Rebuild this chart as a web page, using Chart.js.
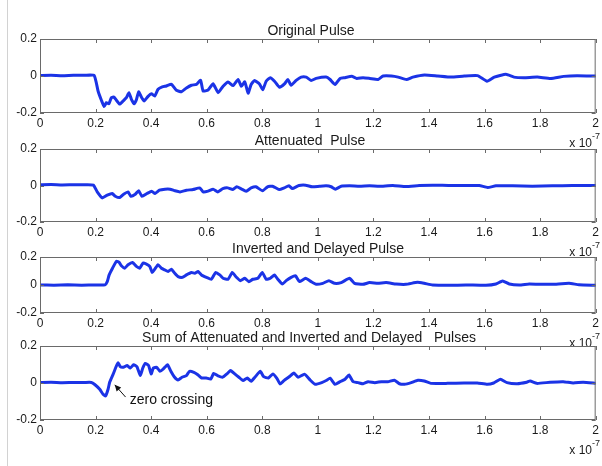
<!DOCTYPE html>
<html>
<head>
<meta charset="utf-8">
<script src="https://cdn.jsdelivr.net/npm/chart.js@4"></script>
<style>
  body { margin: 0; width: 602px; height: 466px; background: #fff; overflow: hidden; position: relative; }
  .edge { position: absolute; left: 7px; top: 0; width: 1px; height: 466px; background: #d2d2d2; }
  canvas { position: absolute; left: 0; }
</style>
</head>
<body>
<div class="edge"></div>
<script>
// time axis in units of 1e-7 s
const xTicks = [0, 0.2, 0.4, 0.6, 0.8, 1, 1.2, 1.4, 1.6, 1.8, 2];
const yTicks = [-0.2, 0, 0.2];

const origT = [0, 0.04, 0.08, 0.12, 0.16, 0.195, 0.209, 0.221, 0.231, 0.239, 0.248, 0.257, 0.266, 0.275, 0.287, 0.299, 0.311, 0.32, 0.329, 0.339, 0.347, 0.355, 0.365, 0.375, 0.389, 0.401, 0.413, 0.425, 0.44, 0.455, 0.473, 0.491, 0.509, 0.527, 0.545, 0.563, 0.578, 0.587, 0.605, 0.623, 0.641, 0.659, 0.677, 0.695, 0.713, 0.725, 0.737, 0.749, 0.76, 0.772, 0.79, 0.802, 0.814, 0.829, 0.844, 0.862, 0.88, 0.892, 0.904, 0.922, 0.94, 0.958, 0.976, 0.994, 1.03, 1.044, 1.062, 1.08, 1.098, 1.122, 1.14, 1.163, 1.187, 1.217, 1.235, 1.265, 1.289, 1.319, 1.342, 1.384, 1.432, 1.48, 1.527, 1.575, 1.609, 1.635, 1.677, 1.706, 1.742, 1.79, 1.838, 1.885, 1.933, 2];
const origV = [0.003, 0.004, 0.002, 0.004, 0.004, 0.003, -0.081, -0.131, -0.165, -0.144, -0.15, -0.117, -0.114, -0.131, -0.152, -0.135, -0.117, -0.09, -0.126, -0.15, -0.128, -0.085, -0.114, -0.135, -0.11, -0.096, -0.108, -0.072, -0.059, -0.054, -0.045, -0.077, -0.085, -0.065, -0.05, -0.045, -0.023, -0.081, -0.076, -0.042, -0.09, -0.055, -0.032, -0.052, -0.019, -0.056, -0.031, -0.093, -0.046, -0.024, -0.043, -0.074, -0.028, -0.009, -0.028, -0.061, -0.043, -0.019, -0.05, -0.024, -0.006, -0.006, -0.024, -0.013, -0.006, -0.019, -0.046, -0.013, -0.009, -0.002, -0.013, -0.009, -0.013, -0.019, 0, 0, -0.006, -0.019, -0.006, 0.006, 0, -0.006, 0, 0.002, -0.028, -0.006, 0.009, -0.006, -0.009, -0.006, -0.013, -0.002, 0.002, 0];

const attT = [0, 0.04, 0.08, 0.12, 0.16, 0.192, 0.206, 0.224, 0.242, 0.26, 0.271, 0.287, 0.301, 0.317, 0.327, 0.343, 0.355, 0.367, 0.385, 0.402, 0.414, 0.43, 0.45, 0.468, 0.486, 0.504, 0.527, 0.551, 0.575, 0.587, 0.605, 0.623, 0.64, 0.658, 0.676, 0.694, 0.708, 0.724, 0.742, 0.76, 0.777, 0.801, 0.819, 0.837, 0.861, 0.879, 0.896, 0.908, 0.932, 0.956, 0.98, 1.006, 1.03, 1.048, 1.063, 1.084, 1.114, 1.15, 1.186, 1.222, 1.27, 1.317, 1.365, 1.413, 1.473, 1.533, 1.581, 1.611, 1.641, 1.701, 1.772, 1.844, 1.916, 2];
const attV = [0.004, 0.005, 0.003, 0.004, 0.004, 0.002, -0.035, -0.068, -0.053, -0.044, -0.059, -0.066, -0.048, -0.035, -0.059, -0.048, -0.029, -0.059, -0.044, -0.031, -0.044, -0.026, -0.02, -0.02, -0.029, -0.035, -0.026, -0.022, -0.013, -0.035, -0.031, -0.02, -0.035, -0.017, -0.013, -0.022, -0.007, -0.018, -0.031, -0.013, -0.007, -0.029, -0.007, -0.004, -0.022, -0.013, -0.002, -0.017, 0, 0.002, -0.007, -0.004, -0.002, -0.007, -0.02, -0.004, -0.002, -0.004, -0.002, -0.004, 0, -0.006, 0, 0.002, 0, 0, 0, -0.011, -0.002, -0.002, -0.004, -0.002, 0, 0];

const invT = [0, 0.05, 0.1, 0.15, 0.2, 0.234, 0.242, 0.249, 0.261, 0.275, 0.285, 0.293, 0.305, 0.317, 0.333, 0.347, 0.359, 0.371, 0.383, 0.395, 0.404, 0.413, 0.425, 0.437, 0.449, 0.461, 0.473, 0.485, 0.497, 0.513, 0.527, 0.545, 0.557, 0.569, 0.581, 0.599, 0.617, 0.632, 0.647, 0.659, 0.677, 0.692, 0.707, 0.721, 0.737, 0.752, 0.766, 0.784, 0.8, 0.814, 0.829, 0.844, 0.856, 0.872, 0.886, 0.904, 0.92, 0.934, 0.956, 0.976, 0.994, 1.018, 1.04, 1.06, 1.084, 1.114, 1.132, 1.162, 1.186, 1.216, 1.246, 1.282, 1.317, 1.359, 1.383, 1.413, 1.473, 1.533, 1.605, 1.641, 1.665, 1.689, 1.725, 1.761, 1.796, 1.844, 1.904, 1.94, 2];
const invV = [0, -0.001, 0.001, -0.001, 0, 0.001, 0.024, 0.072, 0.12, 0.169, 0.161, 0.137, 0.12, 0.145, 0.161, 0.133, 0.12, 0.157, 0.149, 0.133, 0.089, 0.113, 0.145, 0.12, 0.108, 0.096, 0.113, 0.084, 0.06, 0.055, 0.072, 0.089, 0.084, 0.096, 0.072, 0.055, 0.041, 0.089, 0.072, 0.048, 0.041, 0.089, 0.055, 0.031, 0.048, 0.024, 0.041, 0.048, 0.089, 0.041, 0.048, 0.072, 0.041, 0.007, 0.031, 0.055, 0.065, 0.024, 0.048, 0.024, 0.005, 0.012, 0.031, 0.012, 0.017, 0.048, 0.012, 0.005, 0.017, 0.012, 0.017, 0.007, 0.005, 0.019, 0.012, 0, -0.002, 0, -0.002, 0.007, 0.029, 0.007, 0, 0.007, 0.005, 0.005, 0.012, 0.002, -0.002];

const sumT = [0, 0.04, 0.08, 0.12, 0.16, 0.185, 0.197, 0.215, 0.227, 0.236, 0.245, 0.251, 0.263, 0.275, 0.281, 0.288, 0.298, 0.314, 0.325, 0.337, 0.349, 0.361, 0.37, 0.379, 0.391, 0.4, 0.408, 0.42, 0.432, 0.444, 0.459, 0.471, 0.483, 0.497, 0.511, 0.527, 0.538, 0.554, 0.568, 0.582, 0.598, 0.615, 0.625, 0.639, 0.657, 0.675, 0.686, 0.701, 0.716, 0.731, 0.746, 0.76, 0.775, 0.793, 0.805, 0.822, 0.838, 0.852, 0.864, 0.878, 0.897, 0.914, 0.929, 0.952, 0.973, 0.99, 1.014, 1.032, 1.044, 1.062, 1.08, 1.098, 1.112, 1.127, 1.145, 1.163, 1.181, 1.205, 1.229, 1.252, 1.276, 1.294, 1.312, 1.336, 1.36, 1.383, 1.407, 1.467, 1.526, 1.574, 1.61, 1.633, 1.657, 1.681, 1.717, 1.752, 1.764, 1.788, 1.836, 1.883, 1.919, 1.955, 2];
const sumV = [0.003, 0.004, 0.002, 0.003, 0.003, 0.003, -0.008, -0.034, -0.061, -0.07, -0.034, 0.005, 0.047, 0.092, 0.11, 0.09, 0.085, 0.094, 0.081, 0.099, 0.088, 0.04, 0.081, 0.106, 0.094, 0.049, 0.081, 0.085, 0.063, 0.076, 0.099, 0.063, 0.034, 0.016, 0.031, 0.04, 0.063, 0.058, 0.045, 0.027, 0.027, 0.022, 0.052, 0.04, 0.031, 0.052, 0.067, 0.049, 0.031, 0.013, 0.027, 0.009, 0.034, 0.063, 0.034, 0.027, 0.049, 0.027, -0.005, 0.013, 0.034, 0.054, 0.031, 0.048, 0.015, -0.007, 0.002, 0.015, 0.026, -0.007, 0.007, 0.02, 0.043, 0.007, 0.002, -0.004, 0.007, 0.002, 0.007, 0.007, 0.015, -0.004, -0.007, 0.002, 0.015, 0.011, -0.002, -0.002, 0, 0, -0.007, 0, 0.02, 0.002, -0.004, 0.004, 0.011, -0.002, 0.004, 0.007, 0, 0.004, -0.001];

// arrow tip, arrow tail and label anchor in data units (panel 4)
const zeroCrossing = { text: 'zero crossing', tip: [0.269, -0.01], tail: [0.308, -0.076], label: [0.323, -0.092] };

const panels = [
  { title: 'Original Pulse', t: origT, v: origV, top: 39, bottom: 113, titleX: 311 },
  { title: 'Attenuated  Pulse', t: attT, v: attV, top: 149, bottom: 222, titleX: 310 },
  { title: 'Inverted and Delayed Pulse', t: invT, v: invV, top: 257, bottom: 313, titleX: 318 },
  { title: 'Sum of Attenuated and Inverted and Delayed   Pulses', t: sumT, v: sumV, top: 346, bottom: 420, titleX: 309, note: zeroCrossing }
];

Chart.defaults.font.family = '"Liberation Sans", Arial, sans-serif';
Chart.defaults.font.size = 12;
Chart.defaults.color = '#1a1a1a';

const PAD_TOP = 30, PAD_BOTTOM = 46, AXIS_H = 20, Y_W = 40;

const matlabAxes = {
  id: 'matlabAxes',
  beforeDatasetsDraw(chart) {
    const { ctx, chartArea: a } = chart;
    ctx.save();
    ctx.fillStyle = '#fff';
    ctx.fillRect(a.left, a.top, a.width, a.height);
    ctx.restore();
  },
  afterDatasetsDraw(chart) {
    const { ctx, chartArea: a, scales } = chart;
    ctx.save();
    ctx.strokeStyle = '#6a6a6a';
    ctx.lineWidth = 1;
    ctx.strokeRect(a.left + 0.5, a.top + 0.5, a.width - 1, a.height - 1);
    ctx.beginPath();
    xTicks.forEach((t) => {
      const px = Math.round(scales.x.getPixelForValue(t)) + 0.5;
      ctx.moveTo(px, a.top); ctx.lineTo(px, a.top + 4);
      ctx.moveTo(px, a.bottom); ctx.lineTo(px, a.bottom - 4);
    });
    yTicks.forEach((v) => {
      const py = Math.round(scales.y.getPixelForValue(v)) + 0.5;
      ctx.moveTo(a.left, py); ctx.lineTo(a.left + 4, py);
      ctx.moveTo(a.right, py); ctx.lineTo(a.right - 4, py);
    });
    ctx.stroke();
    ctx.restore();
  },
  afterDraw(chart) {
    const { ctx, chartArea: a, scales } = chart;
    const p = chart.options.plugins.matlabAxes;
    ctx.save();
    ctx.fillStyle = '#1a1a1a';
    ctx.textBaseline = 'middle';
    ctx.textAlign = 'center';
    ctx.font = '14px "Liberation Sans", Arial, sans-serif';
    ctx.fillText(p.title, p.titleX, a.top - 8);

    // x 10^-7 multiplier
    ctx.textAlign = 'right';
    ctx.font = '12px "Liberation Sans", Arial, sans-serif';
    ctx.fillText('x 10', 592, a.bottom + 31);
    ctx.font = '9px "Liberation Sans", Arial, sans-serif';
    ctx.textAlign = 'left';
    ctx.fillText('-7', 592, a.bottom + 24);

    if (p.note) {
      const n = p.note;
      const tx = scales.x.getPixelForValue(n.tip[0]), ty = scales.y.getPixelForValue(n.tip[1]);
      const fx = scales.x.getPixelForValue(n.tail[0]), fy = scales.y.getPixelForValue(n.tail[1]);
      const ang = Math.atan2(ty - fy, tx - fx);
      ctx.strokeStyle = '#111';
      ctx.fillStyle = '#111';
      ctx.lineWidth = 1;
      ctx.beginPath();
      ctx.moveTo(fx, fy); ctx.lineTo(tx, ty);
      ctx.stroke();
      ctx.beginPath();
      ctx.moveTo(tx, ty);
      ctx.lineTo(tx - 7 * Math.cos(ang - 0.45), ty - 7 * Math.sin(ang - 0.45));
      ctx.lineTo(tx - 7 * Math.cos(ang + 0.45), ty - 7 * Math.sin(ang + 0.45));
      ctx.closePath();
      ctx.fill();
      ctx.font = '14px "Liberation Sans", Arial, sans-serif';
      ctx.textAlign = 'left';
      ctx.fillText(n.text, scales.x.getPixelForValue(n.label[0]), scales.y.getPixelForValue(n.label[1]));
    }
    ctx.restore();
  }
};

function drawPanel(panel) {
  const h = panel.bottom - panel.top;
  const canvas = document.createElement('canvas');
  canvas.width = 602;
  canvas.height = h + PAD_TOP + PAD_BOTTOM;
  canvas.style.top = (panel.top - PAD_TOP) + 'px';
  document.body.appendChild(canvas);

  const points = panel.t.map((t, i) => ({ x: t, y: panel.v[i] }));

  new Chart(canvas.getContext('2d'), {
    type: 'line',
    data: {
      datasets: [{
        data: points,
        borderColor: '#1b33e6',
        borderWidth: 3,
        pointRadius: 0,
        tension: 0.15,
        borderJoinStyle: 'round',
        borderCapStyle: 'round',
      }],
    },
    options: {
      responsive: false,
      animation: false,
      layout: { padding: { top: PAD_TOP, right: 4, bottom: PAD_BOTTOM - AXIS_H, left: 0 } },
      scales: {
        x: {
          type: 'linear',
          min: 0,
          max: 2,
          afterFit(scale) { scale.height = AXIS_H; },
          afterBuildTicks(scale) { scale.ticks = xTicks.map((v) => ({ value: v })); },
          ticks: {
            padding: 3,
            maxRotation: 0,
            autoSkip: false,
            callback: (v) => String(Number(v.toFixed(1))),
          },
          grid: { display: false, drawTicks: false },
          border: { display: false },
        },
        y: {
          min: -0.2,
          max: 0.2,
          afterFit(scale) { scale.width = Y_W; },
          afterBuildTicks(scale) { scale.ticks = yTicks.map((v) => ({ value: v })); },
          ticks: {
            padding: 3,
            callback: (v) => String(Number(v.toFixed(1))),
          },
          grid: { display: false, drawTicks: false },
          border: { display: false },
        },
      },
      plugins: {
        legend: { display: false },
        tooltip: { enabled: false },
        matlabAxes: { title: panel.title, titleX: panel.titleX, note: panel.note },
      },
    },
    plugins: [matlabAxes],
  });
}

panels.forEach(drawPanel);
</script>
</body>
</html>
